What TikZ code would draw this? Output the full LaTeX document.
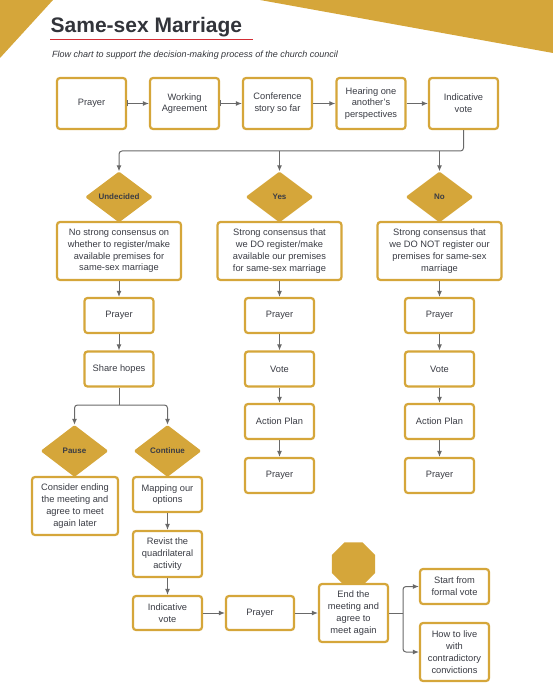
\documentclass[tikz,border=0pt]{standalone}
\usepackage{fontspec}
\setmainfont{Liberation Sans}
\usetikzlibrary{shapes.geometric,arrows.meta}
\definecolor{gold}{RGB}{213,166,58}
\definecolor{txt}{RGB}{58,60,68}
\definecolor{titlec}{RGB}{50,52,58}
\definecolor{lgray}{RGB}{105,105,105}
\definecolor{redline}{RGB}{210,45,52}
\tikzset{
  box/.style={draw=gold, line width=2.2pt, rounded corners=3pt, fill=white, align=center,
    font=\fontsize{9.3}{11.8}\selectfont, text=txt, inner sep=0pt},
  sbox/.style={box, minimum width=69pt, minimum height=35pt},
  tbox/.style={box, minimum width=69pt, minimum height=51pt},
  bbox/.style={box, minimum width=124pt, minimum height=58pt},
  dia/.style={shape=diamond, fill=gold, minimum width=68pt, minimum height=51pt, inner sep=0pt,
    rounded corners=1.5pt, font=\fontsize{8}{9}\selectfont\bfseries, text=txt},
  lline/.style={draw=lgray, line width=1pt},
  conn/.style={lline, -{Latex[length=6pt,width=5pt]}},
  bconn/.style={lline, {Bar[width=6pt,line width=1pt]}-{Latex[length=6pt,width=5pt]}}
}
\begin{document}
\begin{tikzpicture}[x=1pt,y=-1pt]
\useasboundingbox (0,0) rectangle (553,695);
% background corners
\fill[gold] (0,0) -- (53,0) -- (0,58) -- cycle;
\fill[gold] (260,0) -- (553,0) -- (553,53) -- cycle;
% title
\node[anchor=base west, inner sep=0pt, text=titlec, font=\fontsize{21}{24}\selectfont\bfseries] (title) at (50.5,33) {Same-sex Marriage};
\draw[redline, line width=1.8pt] (50,39.5) -- (253,39.5);
\node[anchor=base west, inner sep=0pt, text=titlec, font=\fontsize{9}{11}\selectfont\itshape] (sub) at (52,58) {Flow chart to support the decision-making process of the church council};
% top row
\node[tbox] (p1) at (91.5,103.5) {Prayer};
\node[tbox] (wa) at (184.5,103.5) {Working\\Agreement};
\node[tbox] (cs) at (277.5,103.5) {Conference\\story so far};
\node[tbox] (ho) at (371,103.5) {Hearing one\\another’s\\perspectives};
\node[tbox] (iv) at (463.5,103.5) {Indicative\\vote};
\draw[bconn] (p1) -- (wa);
\draw[bconn] (wa) -- (cs);
\draw[conn] (cs) -- (ho);
\draw[conn] (ho) -- (iv);
% decision diamonds
\node[dia] (dU) at (119,197) {Undecided};
\node[dia] (dY) at (279.5,197) {Yes};
\node[dia] (dN) at (439.5,197) {No};
\coordinate (tU) at (119,151);
\coordinate (tY) at (279.5,151);
\coordinate (tN) at (439.5,151);
\draw[conn, rounded corners=3pt] (iv.south) |- (tU) -- (dU.north);
\draw[conn] (tY) -- (dY.north);
\draw[conn] (tN) -- (dN.north);
% big boxes
\node[bbox] (bU) at (119,251) {No strong consensus on\\whether to register/make\\available premises for\\same-sex marriage};
\node[bbox] (bY) at (279.5,251) {Strong consensus that\\we DO register/make\\available our premises\\for same-sex marriage};
\node[bbox] (bN) at (439.5,251) {Strong consensus that\\we DO NOT register our\\premises for same-sex\\marriage};
% undecided column
\node[sbox] (uP) at (119,315.5) {Prayer};
\node[sbox] (uS) at (119,369) {Share hopes};
\draw[conn] (bU) -- (uP);
\draw[conn] (uP) -- (uS);
% yes column
\node[sbox] (yP1) at (279.5,315.5) {Prayer};
\node[sbox] (yV) at (279.5,369) {Vote};
\node[sbox] (yA) at (279.5,421.5) {Action Plan};
\node[sbox] (yP2) at (279.5,475.5) {Prayer};
\draw[conn] (bY) -- (yP1);
\draw[conn] (yP1) -- (yV);
\draw[conn] (yV) -- (yA);
\draw[conn] (yA) -- (yP2);
% no column
\node[sbox] (nP1) at (439.5,315.5) {Prayer};
\node[sbox] (nV) at (439.5,369) {Vote};
\node[sbox] (nA) at (439.5,421.5) {Action Plan};
\node[sbox] (nP2) at (439.5,475.5) {Prayer};
\draw[conn] (bN) -- (nP1);
\draw[conn] (nP1) -- (nV);
\draw[conn] (nV) -- (nA);
\draw[conn] (nA) -- (nP2);
% pause / continue
\node[dia, minimum height=52pt] (dP) at (74.5,451) {Pause};
\node[dia, minimum height=52pt] (dC) at (167.5,451) {Continue};
\coordinate (sM) at (119,405);
\coordinate (sP) at (74.5,405);
\coordinate (sC) at (167.5,405);
\draw[lline] (uS.south) -- (sM);
\draw[conn, rounded corners=3pt] (sM) -- (sP) -- (dP.north);
\draw[conn, rounded corners=3pt] (sM) -- (sC) -- (dC.north);
\node[box, minimum width=86pt, minimum height=58pt] (cE) at (75,506) {Consider ending\\the meeting and\\agree to meet\\again later};
\node[sbox] (mO) at (167.5,494.5) {Mapping our\\options};
\node[box, minimum width=69pt, minimum height=46pt] (rQ) at (167.5,554) {Revist the\\quadrilateral\\activity};
\node[box, minimum width=69pt, minimum height=34pt] (iV2) at (167.5,613) {Indicative\\vote};
\node[box, minimum width=68pt, minimum height=34pt] (pF) at (260,613) {Prayer};
\node[regular polygon, regular polygon sides=8, minimum size=47pt, fill=gold, inner sep=0pt] (oc) at (353.5,564) {};
\node[box, minimum width=69pt, minimum height=58pt] (eM) at (353.5,613) {End the\\meeting and\\agree to\\meet again};
\node[sbox] (sF) at (454.5,586.5) {Start from\\formal vote};
\node[box, minimum width=69pt, minimum height=58pt] (hL) at (454.5,652) {How to live\\with\\contradictory\\convictions};
\draw[conn] (mO) -- (rQ);
\draw[conn] (rQ) -- (iV2);
\draw[conn] (iV2) -- (pF);
\draw[conn] (pF) -- (eM);
\coordinate (fk) at (403,613);
\draw[lline] (eM.east) -- (fk);
\draw[conn, rounded corners=3pt] (fk) |- (sF.west);
\draw[conn, rounded corners=3pt] (fk) |- (hL.west);
\end{tikzpicture}
\end{document}
